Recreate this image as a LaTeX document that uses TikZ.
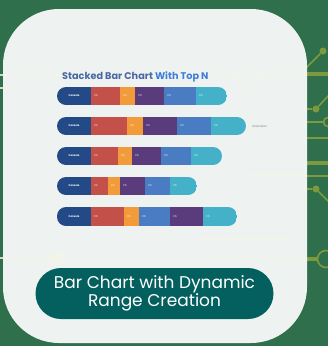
\documentclass[tikz,border=0pt]{standalone}
\usepackage{fontspec}
\setmainfont{Poppins}
\definecolor{bggreen}{HTML}{2F6F4B}
\definecolor{card}{HTML}{EEF3F1}
\definecolor{pillc}{HTML}{04605E}
\definecolor{olive}{HTML}{7E9A3E}
\definecolor{faint}{HTML}{F5F5E8}
\definecolor{cnavy}{HTML}{234A86}
\definecolor{cred}{HTML}{C4504A}
\definecolor{corange}{HTML}{F29B3B}
\definecolor{cpurple}{HTML}{5A3C7C}
\definecolor{cblue}{HTML}{4A7CC4}
\definecolor{cteal}{HTML}{45B1C9}
\definecolor{tdark}{HTML}{4A67A6}
\definecolor{tblue}{HTML}{3D7DDB}
\tikzset{
  cline/.style={olive, line width=1.6pt},
  cthick/.style={olive, line width=3.5pt},
  fline/.style={faint, line width=1.1pt},
  cdot/.style={circle, fill=olive, inner sep=0pt, minimum size=7pt},
  cring/.style={circle, draw=olive, line width=1.6pt, inner sep=0pt},
  pct/.style={anchor=west, text=white, font=\fontsize{2.6}{3}\selectfont, inner sep=0pt},
  cons/.style={text=white, font=\bfseries\fontsize{2.6}{3}\selectfont, inner sep=0pt},
  pill/.style={fill=pillc, rounded corners=25.5pt, minimum width=238pt, minimum height=51pt,
    text=white, align=center, font=\fontsize{17}{18.5}\selectfont, inner sep=0pt},
}
\begin{document}
\begin{tikzpicture}[x=1pt,y=-1pt]
\useasboundingbox (0,0) rectangle (328,346);
\fill[bggreen] (0,0) rectangle (328,346);
% circuit on the right
\coordinate (d1a) at (300,74);
\node[cdot] (d1) at (323,51) {};
\draw[cline] (305,69) -- (d1);
\draw[cthick] (d1a) -- (328,74);
\node[cdot] (d2) at (316,109) {};
\coordinate (d2a) at (300,109);
\coordinate (d2b) at (330,94);
\draw[cline] (d2a) -- (d2) -- (d2b);
\node[cring, minimum size=9pt] (r1) at (328,122) {};
\coordinate (r1a) at (300,122);
\draw[cline] (r1a) -- (r1);
\coordinate (l1a) at (300,138); \coordinate (l1b) at (328,138);
\draw[cline] (l1a) -- (l1b);
\coordinate (l2a) at (300,163); \coordinate (l2b) at (328,163);
\draw[cthick] (l2a) -- (l2b);
\coordinate (l3a) at (300,176); \coordinate (l3b) at (328,176);
\draw[cline] (l3a) -- (l3b);
\node[cdot] (d3) at (316,189) {};
\coordinate (d3a) at (300,189);
\coordinate (d3b) at (330,203);
\draw[cline] (d3a) -- (d3) -- (d3b);
\node[cring, minimum size=17pt] (r2) at (326,259) {};
\coordinate (r2a) at (300,259);
\draw[cthick] (r2a) -- (r2);
% card
\fill[card, rounded corners=56pt] (3,9) rectangle (307,343);
% faint lines on card
\begin{scope}[opacity=0.8]
\coordinate (f1a) at (0,75); \coordinate (f1b) at (307,75);
\draw[fline] (f1a) -- (f1b);
\node[circle, draw=faint, line width=1pt, minimum size=20pt, inner sep=0pt] (fr1) at (247,76) {};
\coordinate (f2a) at (0,88);
\node[circle, fill=faint, inner sep=0pt, minimum size=4pt] (fd2) at (17,88) {};
\draw[fline] (f2a) -- (fd2);
\coordinate (f3a) at (0,258);
\node[circle, fill=faint, inner sep=0pt, minimum size=14pt] (fd3) at (57,258) {};
\draw[fline] (f3a) -- (fd3);
\coordinate (f4a) at (200,258); \coordinate (f4b) at (307,258);
\draw[fline] (f4a) -- (f4b);
\coordinate (f5a) at (200,239);
\node[circle, draw=faint, line width=1pt, minimum size=9pt, inner sep=0pt] (fr5) at (293,239) {};
\draw[fline] (f5a) -- (fr5);
\coordinate (f6a) at (247,175); \coordinate (f6b) at (307,175);
\draw[fline] (f6a) -- (f6b);
\end{scope}
% title
\node[anchor=west, inner sep=0pt, font=\bfseries\fontsize{9.7}{11}\selectfont] (title) at (62,77)
  {\textcolor{tdark}{Stacked Bar Chart} \textcolor{tblue}{With Top N}};
% bar 1
\begin{scope}
\clip[rounded corners=9pt] (57,87) rectangle (227,105);
\fill[cnavy] (57,87) rectangle (91,105);
\foreach \a/\b/\c in {91/120/cred,120/135/corange,135/164/cpurple,164/196/cblue,196/227/cteal}{
  \fill[\c] (\a,87) rectangle (\b,105);
  \node[pct] (p1-\a) at (\a+3,96) {0\%};}
\end{scope}
\node[cons] (c1) at (74,96) {Console};
% bar 2
\begin{scope}
\clip[rounded corners=9pt] (57,117) rectangle (246,135);
\fill[cnavy] (57,117) rectangle (91,135);
\foreach \a/\b/\c in {91/127/cred,127/143/corange,143/177/cpurple,177/211/cblue,211/246/cteal}{
  \fill[\c] (\a,117) rectangle (\b,135);
  \node[pct] (p2-\a) at (\a+3,126) {0\%};}
\end{scope}
\node[cons] (c2) at (74,126) {Console};
\node[anchor=west, inner sep=0pt, text=gray, font=\fontsize{2.8}{3}\selectfont] (dl) at (252,126) {data label};
% bar 3
\begin{scope}
\clip[rounded corners=9pt] (57,147) rectangle (222,165);
\fill[cnavy] (57,147) rectangle (91,165);
\foreach \a/\b/\c in {91/118/cred,118/132/corange,132/161/cpurple,161/191/cblue,191/222/cteal}{
  \fill[\c] (\a,147) rectangle (\b,165);
  \node[pct] (p3-\a) at (\a+3,156) {0\%};}
\end{scope}
\node[cons] (c3) at (74,156) {Console};
% bar 4
\begin{scope}
\clip[rounded corners=9pt] (57,177) rectangle (197,195);
\fill[cnavy] (57,177) rectangle (91,195);
\foreach \a/\b/\c in {91/108/cred,108/120/corange,120/145/cpurple,145/170/cblue,170/197/cteal}{
  \fill[\c] (\a,177) rectangle (\b,195);
  \node[pct] (p4-\a) at (\a+3,186) {0\%};}
\end{scope}
\node[cons] (c4) at (74,186) {Console};
% bar 5
\begin{scope}
\clip[rounded corners=9pt] (57,207) rectangle (237,226);
\fill[cnavy] (57,207) rectangle (91,226);
\foreach \a/\b/\c in {91/124/cred,124/139/corange,139/170/cblue,170/203/cpurple,203/237/cteal}{
  \fill[\c] (\a,207) rectangle (\b,226);
  \node[pct] (p5-\a) at (\a+3,216.5) {0\%};}
\end{scope}
\node[cons] (c5) at (74,216.5) {Console};
% button
\node[pill] (btn) at (154.5,293.5) {Bar Chart with Dynamic\\Range Creation};
\end{tikzpicture}
\end{document}
